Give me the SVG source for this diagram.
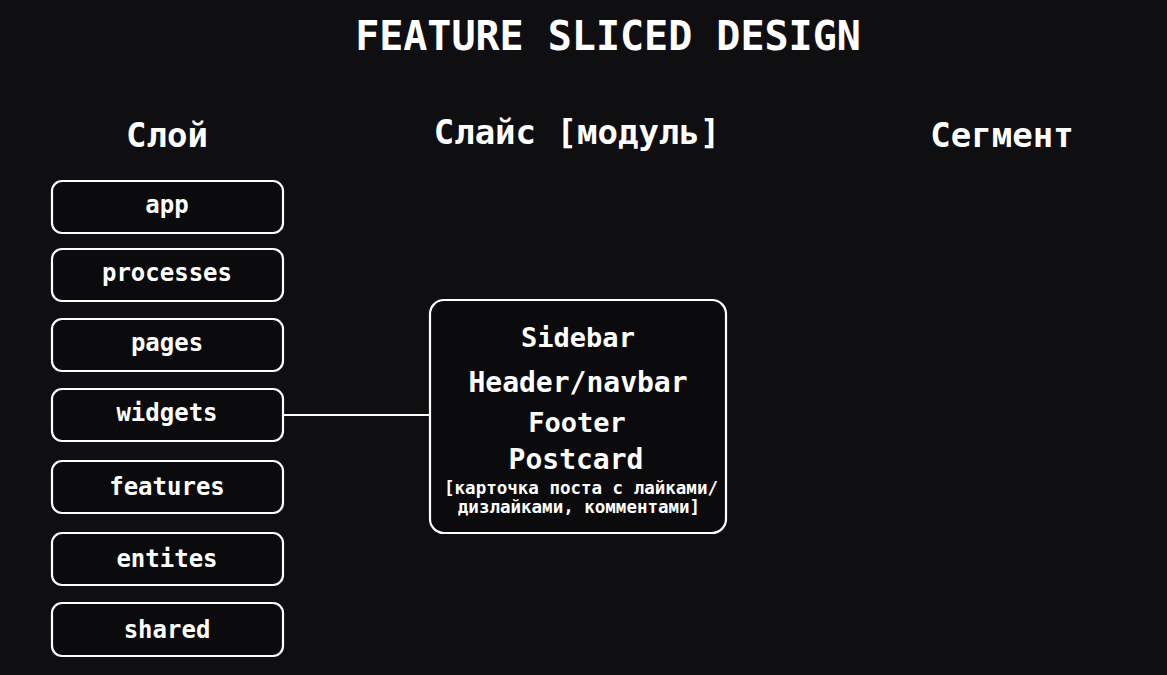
<svg xmlns="http://www.w3.org/2000/svg" width="1167" height="675" viewBox="0 0 1167 675">
<style>
text{font-family:"DejaVu Sans Mono","Liberation Mono",monospace;font-weight:bold;fill:#ffffff;text-anchor:middle}
.title{font-size:40px}
.col{font-size:34px}
.lbl{font-size:24px}
.box{fill:#0b0b0d;stroke:#ffffff;stroke-width:2.2}
.big{font-size:27px}
.small{font-size:17.5px}
</style>
<rect width="1167" height="675" fill="#0f0e11"/>
<text class="title" x="608" y="50">FEATURE SLICED DESIGN</text>
<text class="col" x="167" y="147">Слой</text>
<text class="col" x="577" y="144">Слайс [модуль]</text>
<text class="col" x="1002" y="147">Сегмент</text>
<g id="connectors">
<line x1="283" y1="415" x2="430" y2="415" stroke="#ffffff" stroke-width="2.2"/>
</g>
<g id="app"><rect class="box" x="52" y="181" width="231" height="52" rx="10"/><text class="lbl" x="167" y="213">app</text></g>
<g id="processes"><rect class="box" x="52" y="249" width="231" height="52" rx="10"/><text class="lbl" x="167" y="281">processes</text></g>
<g id="pages"><rect class="box" x="52" y="319" width="231" height="52" rx="10"/><text class="lbl" x="167" y="351">pages</text></g>
<g id="widgets"><rect class="box" x="52" y="389" width="231" height="52" rx="10"/><text class="lbl" x="167" y="421">widgets</text></g>
<g id="features"><rect class="box" x="52" y="461" width="231" height="52" rx="10"/><text class="lbl" x="167" y="495">features</text></g>
<g id="entites"><rect class="box" x="52" y="533" width="231" height="52" rx="10"/><text class="lbl" x="167" y="567">entites</text></g>
<g id="shared"><rect class="box" x="52" y="603" width="231" height="53" rx="10"/><text class="lbl" x="167" y="638">shared</text></g>
<g id="slice">
<rect class="box" x="430" y="300" width="296" height="233" rx="14"/>
<text class="big" x="578" y="347">Sidebar</text>
<text class="big" x="578" y="392" style="font-size:28px">Header/navbar</text>
<text class="big" x="577" y="432">Footer</text>
<text class="big" x="576" y="469" style="font-size:28px">Postcard</text>
<text class="small" x="581" y="494">[карточка поста с лайками/</text>
<text class="small" x="579" y="513">дизлайками, комментами]</text>
</g>
</svg>
